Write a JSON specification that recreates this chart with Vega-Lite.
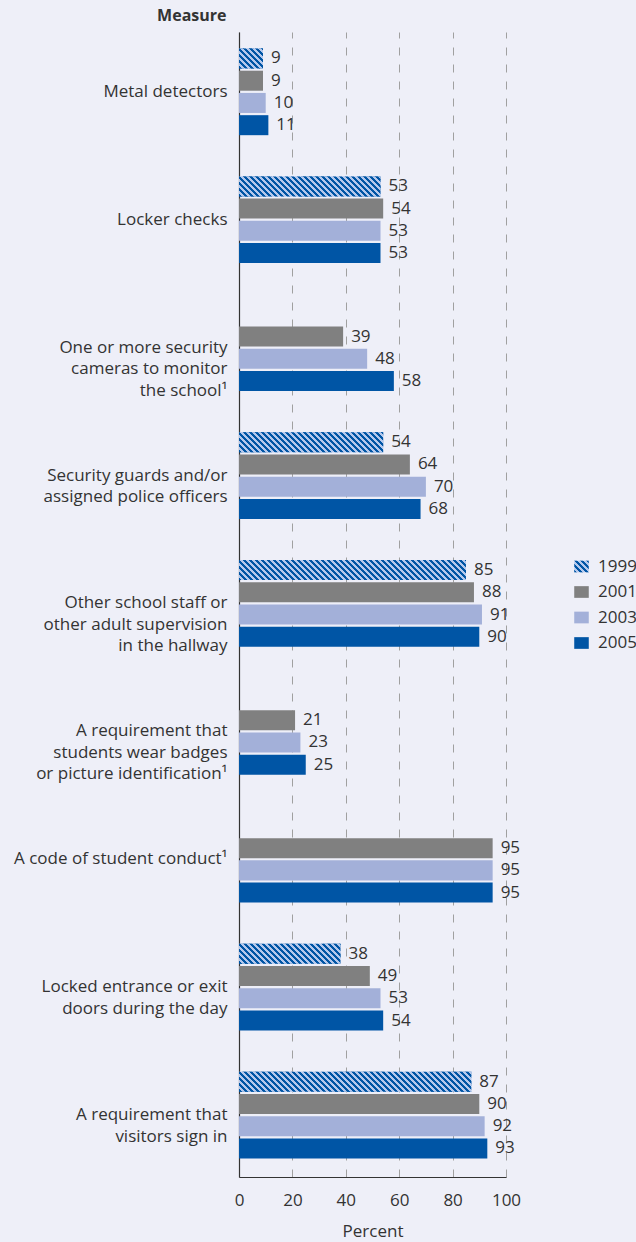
{
  "$schema": "https://vega.github.io/schema/vega-lite/v6.json",
  "width": 267,
  "height": 1145,
  "autosize": {"type": "none"},
  "padding": {"left": 239, "top": 32, "right": 130, "bottom": 65},
  "background": "#eeeff8",
  "config": {"font": "Open Sans", "view": {"stroke": null}},
  "params": [
    {"name": "hs", "value": [
      {"offset":0,"color":"#0055a5"},{"offset":0.01,"color":"#0055a5"},{"offset":0.01,"color":"#b4c8ec"},{"offset":0.02,"color":"#b4c8ec"},
      {"offset":0.02,"color":"#0055a5"},{"offset":0.03,"color":"#0055a5"},{"offset":0.03,"color":"#b4c8ec"},{"offset":0.04,"color":"#b4c8ec"},
      {"offset":0.04,"color":"#0055a5"},{"offset":0.05,"color":"#0055a5"},{"offset":0.05,"color":"#b4c8ec"},{"offset":0.06,"color":"#b4c8ec"},
      {"offset":0.06,"color":"#0055a5"},{"offset":0.07,"color":"#0055a5"},{"offset":0.07,"color":"#b4c8ec"},{"offset":0.08,"color":"#b4c8ec"},
      {"offset":0.08,"color":"#0055a5"},{"offset":0.09,"color":"#0055a5"},{"offset":0.09,"color":"#b4c8ec"},{"offset":0.10,"color":"#b4c8ec"},
      {"offset":0.10,"color":"#0055a5"},{"offset":0.11,"color":"#0055a5"},{"offset":0.11,"color":"#b4c8ec"},{"offset":0.12,"color":"#b4c8ec"},
      {"offset":0.12,"color":"#0055a5"},{"offset":0.13,"color":"#0055a5"},{"offset":0.13,"color":"#b4c8ec"},{"offset":0.14,"color":"#b4c8ec"},
      {"offset":0.14,"color":"#0055a5"},{"offset":0.15,"color":"#0055a5"},{"offset":0.15,"color":"#b4c8ec"},{"offset":0.16,"color":"#b4c8ec"},
      {"offset":0.16,"color":"#0055a5"},{"offset":0.17,"color":"#0055a5"},{"offset":0.17,"color":"#b4c8ec"},{"offset":0.18,"color":"#b4c8ec"},
      {"offset":0.18,"color":"#0055a5"},{"offset":0.19,"color":"#0055a5"},{"offset":0.19,"color":"#b4c8ec"},{"offset":0.20,"color":"#b4c8ec"},
      {"offset":0.20,"color":"#0055a5"},{"offset":0.21,"color":"#0055a5"},{"offset":0.21,"color":"#b4c8ec"},{"offset":0.22,"color":"#b4c8ec"},
      {"offset":0.22,"color":"#0055a5"},{"offset":0.23,"color":"#0055a5"},{"offset":0.23,"color":"#b4c8ec"},{"offset":0.24,"color":"#b4c8ec"},
      {"offset":0.24,"color":"#0055a5"},{"offset":0.25,"color":"#0055a5"},{"offset":0.25,"color":"#b4c8ec"},{"offset":0.26,"color":"#b4c8ec"},
      {"offset":0.26,"color":"#0055a5"},{"offset":0.27,"color":"#0055a5"},{"offset":0.27,"color":"#b4c8ec"},{"offset":0.28,"color":"#b4c8ec"},
      {"offset":0.28,"color":"#0055a5"},{"offset":0.29,"color":"#0055a5"},{"offset":0.29,"color":"#b4c8ec"},{"offset":0.30,"color":"#b4c8ec"},
      {"offset":0.30,"color":"#0055a5"},{"offset":0.31,"color":"#0055a5"},{"offset":0.31,"color":"#b4c8ec"},{"offset":0.32,"color":"#b4c8ec"},
      {"offset":0.32,"color":"#0055a5"},{"offset":0.33,"color":"#0055a5"},{"offset":0.33,"color":"#b4c8ec"},{"offset":0.34,"color":"#b4c8ec"},
      {"offset":0.34,"color":"#0055a5"},{"offset":0.35,"color":"#0055a5"},{"offset":0.35,"color":"#b4c8ec"},{"offset":0.36,"color":"#b4c8ec"},
      {"offset":0.36,"color":"#0055a5"},{"offset":0.37,"color":"#0055a5"},{"offset":0.37,"color":"#b4c8ec"},{"offset":0.38,"color":"#b4c8ec"},
      {"offset":0.38,"color":"#0055a5"},{"offset":0.39,"color":"#0055a5"},{"offset":0.39,"color":"#b4c8ec"},{"offset":0.40,"color":"#b4c8ec"},
      {"offset":0.40,"color":"#0055a5"},{"offset":0.41,"color":"#0055a5"},{"offset":0.41,"color":"#b4c8ec"},{"offset":0.42,"color":"#b4c8ec"},
      {"offset":0.42,"color":"#0055a5"},{"offset":0.43,"color":"#0055a5"},{"offset":0.43,"color":"#b4c8ec"},{"offset":0.44,"color":"#b4c8ec"},
      {"offset":0.44,"color":"#0055a5"},{"offset":0.45,"color":"#0055a5"},{"offset":0.45,"color":"#b4c8ec"},{"offset":0.46,"color":"#b4c8ec"},
      {"offset":0.46,"color":"#0055a5"},{"offset":0.47,"color":"#0055a5"},{"offset":0.47,"color":"#b4c8ec"},{"offset":0.48,"color":"#b4c8ec"},
      {"offset":0.48,"color":"#0055a5"},{"offset":0.49,"color":"#0055a5"},{"offset":0.49,"color":"#b4c8ec"},{"offset":0.50,"color":"#b4c8ec"},
      {"offset":0.50,"color":"#0055a5"},{"offset":0.51,"color":"#0055a5"},{"offset":0.51,"color":"#b4c8ec"},{"offset":0.52,"color":"#b4c8ec"},
      {"offset":0.52,"color":"#0055a5"},{"offset":0.53,"color":"#0055a5"},{"offset":0.53,"color":"#b4c8ec"},{"offset":0.54,"color":"#b4c8ec"},
      {"offset":0.54,"color":"#0055a5"},{"offset":0.55,"color":"#0055a5"},{"offset":0.55,"color":"#b4c8ec"},{"offset":0.56,"color":"#b4c8ec"},
      {"offset":0.56,"color":"#0055a5"},{"offset":0.57,"color":"#0055a5"},{"offset":0.57,"color":"#b4c8ec"},{"offset":0.58,"color":"#b4c8ec"},
      {"offset":0.58,"color":"#0055a5"},{"offset":0.59,"color":"#0055a5"},{"offset":0.59,"color":"#b4c8ec"},{"offset":0.60,"color":"#b4c8ec"},
      {"offset":0.60,"color":"#0055a5"},{"offset":0.61,"color":"#0055a5"},{"offset":0.61,"color":"#b4c8ec"},{"offset":0.62,"color":"#b4c8ec"},
      {"offset":0.62,"color":"#0055a5"},{"offset":0.63,"color":"#0055a5"},{"offset":0.63,"color":"#b4c8ec"},{"offset":0.64,"color":"#b4c8ec"},
      {"offset":0.64,"color":"#0055a5"},{"offset":0.65,"color":"#0055a5"},{"offset":0.65,"color":"#b4c8ec"},{"offset":0.66,"color":"#b4c8ec"},
      {"offset":0.66,"color":"#0055a5"},{"offset":0.67,"color":"#0055a5"},{"offset":0.67,"color":"#b4c8ec"},{"offset":0.68,"color":"#b4c8ec"},
      {"offset":0.68,"color":"#0055a5"},{"offset":0.69,"color":"#0055a5"},{"offset":0.69,"color":"#b4c8ec"},{"offset":0.70,"color":"#b4c8ec"},
      {"offset":0.70,"color":"#0055a5"},{"offset":0.71,"color":"#0055a5"},{"offset":0.71,"color":"#b4c8ec"},{"offset":0.72,"color":"#b4c8ec"},
      {"offset":0.72,"color":"#0055a5"},{"offset":0.73,"color":"#0055a5"},{"offset":0.73,"color":"#b4c8ec"},{"offset":0.74,"color":"#b4c8ec"},
      {"offset":0.74,"color":"#0055a5"},{"offset":0.75,"color":"#0055a5"},{"offset":0.75,"color":"#b4c8ec"},{"offset":0.76,"color":"#b4c8ec"},
      {"offset":0.76,"color":"#0055a5"},{"offset":0.77,"color":"#0055a5"},{"offset":0.77,"color":"#b4c8ec"},{"offset":0.78,"color":"#b4c8ec"},
      {"offset":0.78,"color":"#0055a5"},{"offset":0.79,"color":"#0055a5"},{"offset":0.79,"color":"#b4c8ec"},{"offset":0.80,"color":"#b4c8ec"},
      {"offset":0.80,"color":"#0055a5"},{"offset":0.81,"color":"#0055a5"},{"offset":0.81,"color":"#b4c8ec"},{"offset":0.82,"color":"#b4c8ec"},
      {"offset":0.82,"color":"#0055a5"},{"offset":0.83,"color":"#0055a5"},{"offset":0.83,"color":"#b4c8ec"},{"offset":0.84,"color":"#b4c8ec"},
      {"offset":0.84,"color":"#0055a5"},{"offset":0.85,"color":"#0055a5"},{"offset":0.85,"color":"#b4c8ec"},{"offset":0.86,"color":"#b4c8ec"},
      {"offset":0.86,"color":"#0055a5"},{"offset":0.87,"color":"#0055a5"},{"offset":0.87,"color":"#b4c8ec"},{"offset":0.88,"color":"#b4c8ec"}
    ]}
  ],
  "data": {"values": [
    {"measure": "Metal detectors", "year": "1999", "pct": 9},
    {"measure": "Metal detectors", "year": "2001", "pct": 9},
    {"measure": "Metal detectors", "year": "2003", "pct": 10},
    {"measure": "Metal detectors", "year": "2005", "pct": 11},
    {"measure": "Locker checks", "year": "1999", "pct": 53},
    {"measure": "Locker checks", "year": "2001", "pct": 54},
    {"measure": "Locker checks", "year": "2003", "pct": 53},
    {"measure": "Locker checks", "year": "2005", "pct": 53},
    {"measure": "One or more security|cameras to monitor|the school¹", "year": "2001", "pct": 39},
    {"measure": "One or more security|cameras to monitor|the school¹", "year": "2003", "pct": 48},
    {"measure": "One or more security|cameras to monitor|the school¹", "year": "2005", "pct": 58},
    {"measure": "Security guards and/or|assigned police officers", "year": "1999", "pct": 54},
    {"measure": "Security guards and/or|assigned police officers", "year": "2001", "pct": 64},
    {"measure": "Security guards and/or|assigned police officers", "year": "2003", "pct": 70},
    {"measure": "Security guards and/or|assigned police officers", "year": "2005", "pct": 68},
    {"measure": "Other school staff or|other adult supervision|in the hallway", "year": "1999", "pct": 85},
    {"measure": "Other school staff or|other adult supervision|in the hallway", "year": "2001", "pct": 88},
    {"measure": "Other school staff or|other adult supervision|in the hallway", "year": "2003", "pct": 91},
    {"measure": "Other school staff or|other adult supervision|in the hallway", "year": "2005", "pct": 90},
    {"measure": "A requirement that|students wear badges|or picture identification¹", "year": "2001", "pct": 21},
    {"measure": "A requirement that|students wear badges|or picture identification¹", "year": "2003", "pct": 23},
    {"measure": "A requirement that|students wear badges|or picture identification¹", "year": "2005", "pct": 25},
    {"measure": "A code of student conduct¹", "year": "2001", "pct": 95},
    {"measure": "A code of student conduct¹", "year": "2003", "pct": 95},
    {"measure": "A code of student conduct¹", "year": "2005", "pct": 95},
    {"measure": "Locked entrance or exit|doors during the day", "year": "1999", "pct": 38},
    {"measure": "Locked entrance or exit|doors during the day", "year": "2001", "pct": 49},
    {"measure": "Locked entrance or exit|doors during the day", "year": "2003", "pct": 53},
    {"measure": "Locked entrance or exit|doors during the day", "year": "2005", "pct": 54},
    {"measure": "A requirement that|visitors sign in", "year": "1999", "pct": 87},
    {"measure": "A requirement that|visitors sign in", "year": "2001", "pct": 90},
    {"measure": "A requirement that|visitors sign in", "year": "2003", "pct": 92},
    {"measure": "A requirement that|visitors sign in", "year": "2005", "pct": 93}
  ]},
  "encoding": {
    "y": {
      "field": "measure", "type": "nominal", "sort": null,
      "scale": {
        "domain": ["Metal detectors", "Locker checks", "One or more security|cameras to monitor|the school¹", "Security guards and/or|assigned police officers", "Other school staff or|other adult supervision|in the hallway", "A requirement that|students wear badges|or picture identification¹", "A code of student conduct¹", "Locked entrance or exit|doors during the day", "A requirement that|visitors sign in"],
        "paddingInner": 0.322, "paddingOuter": 0.137, "align": 0.47
      },
      "axis": {
        "title": "Measure", "titleAngle": 0, "titleAlign": "right", "titleX": -13, "titleY": -17,
        "titleBaseline": "middle", "titleFontSize": 16, "titleFontWeight": "bold", "titleColor": "#333333",
        "labelExpr": "split(datum.label, '|')", "labelFontSize": 17, "labelColor": "#333333",
        "labelLineHeight": 21.5, "labelPadding": 12, "labelLimit": 320, "labelAlign": "right", "labelBaseline": "middle",
        "ticks": false, "domainColor": "#333333", "domainWidth": 1.2
      }
    },
    "yOffset": {
      "field": "year", "type": "nominal",
      "scale": {"domain": ["1999", "2001", "2003", "2005"], "paddingInner": 0.1, "paddingOuter": 0}
    },
    "x": {
      "field": "pct", "type": "quantitative",
      "scale": {"domain": [0, 100], "nice": false},
      "axis": {
        "title": "Percent", "values": [0, 20, 40, 60, 80, 100], "grid": true, "gridDash": [8, 9],
        "gridColor": "#a0a0a0", "ticks": false, "domainColor": "#333333", "domainWidth": 1.2,
        "labelFlush": false, "labelFontSize": 17, "labelColor": "#333333", "labelPadding": 15,
        "titleFontSize": 17, "titleFontWeight": "normal", "titleColor": "#333333", "titlePadding": 15
      }
    }
  },
  "layer": [
    {
      "mark": {"type": "bar"},
      "encoding": {
        "color": {
          "field": "year", "type": "nominal",
          "scale": {
            "domain": ["1999", "2001", "2003", "2005"],
            "range": [{"expr": "{gradient: 'linear', x1: 0, y1: 1, x2: 12.5, y2: -9, stops: hs}"}, "#808080", "#a3b0d9", "#0055a5"]
          },
          "legend": {
            "orient": "none", "legendX": 334, "legendY": 526, "title": null,
            "symbolType": "M-0.97,-0.78H0.97V0.78H-0.97Z", "symbolSize": 225, "symbolStrokeWidth": 0,
            "labelFontSize": 17, "labelColor": "#333333", "labelOffset": 8, "rowPadding": 7.5, "padding": 0
          }
        }
      }
    },
    {
      "transform": [{"filter": "datum.year === '1999'"}],
      "mark": {"type": "bar", "fill": {"expr": "{gradient: 'linear', x1: 0, y1: 1, x2: 801*datum.pct/(7.1289*datum.pct*datum.pct + 400), y2: 1 - 6000/(7.1289*datum.pct*datum.pct + 400), stops: hs}"}}
    },
    {
      "mark": {"type": "text", "align": "left", "baseline": "middle", "dx": 8, "fontSize": 17, "color": "#333333"},
      "encoding": {"text": {"field": "pct", "type": "quantitative"}}
    }
  ]
}
